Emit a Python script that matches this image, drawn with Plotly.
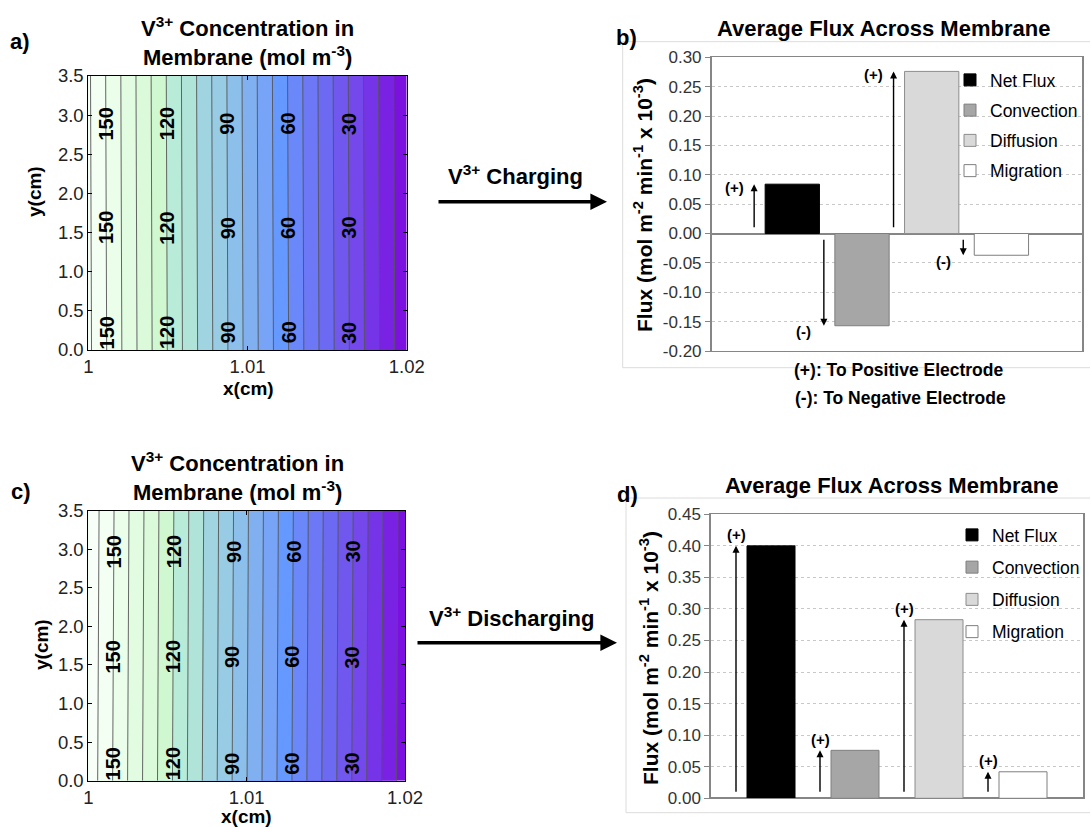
import numpy as np
import plotly.graph_objects as go

# ---------------- data ----------------
# V3+ concentration in the membrane (mol m^-3) on an x (cm) by y (cm) grid
x_cm = [1.000, 1.005, 1.010, 1.015, 1.020]
y_cm = [0.0, 3.5]
conc_charging = [
    [159.1, 119.7, 80.3, 41.0, 1.6],   # y = 0.0 cm
    [158.6, 119.2, 79.8, 40.5, 1.1],   # y = 3.5 cm
]
conc_discharging = [
    [162.2, 122.5, 82.7, 43.0, 3.3],
    [162.9, 123.2, 83.4, 43.7, 4.0],
]
contour_labels = [150, 120, 90, 60, 30]
conc_x_ticks = [1.0, 1.01, 1.02]
conc_x_ticktext = ["1", "1.01", "1.02"]
conc_y_ticks = [0.0, 0.5, 1.0, 1.5, 2.0, 2.5, 3.0, 3.5]

# Average flux across the membrane (mol m^-2 min^-1 x 10^-3)
components = ["Net Flux", "Convection", "Diffusion", "Migration"]
flux_charging = [0.084, -0.157, 0.276, -0.037]
flux_discharging = [0.400, 0.076, 0.283, 0.042]
flux_ticks_charging = [-0.20, -0.15, -0.10, -0.05, 0.00, 0.05, 0.10, 0.15, 0.20, 0.25, 0.30]
flux_ticks_discharging = [0.00, 0.05, 0.10, 0.15, 0.20, 0.25, 0.30, 0.35, 0.40, 0.45]

# ---------------- styling ----------------
W, H = 1090, 827
FONT = "Arial, 'Liberation Sans', sans-serif"


def fx(px):
    return px / W


def fy(py):
    return 1 - py / H


# one colour per filled band, lowest band first (levels every 7.5)
band_colors = [
    "#7c10e0", "#7a22e4", "#7634e8", "#7448ea", "#7058ee", "#6c6af2",
    "#6c78f6", "#6a88fa", "#6699ff", "#78a4f8", "#80b0f0", "#8cc0ea",
    "#98cce4", "#a0d4e0", "#b0e4d8", "#b8ecd8", "#d0f8d0", "#dafada",
    "#e2fce2", "#eafeea", "#f2fff2", "#f8fff8",
]
n_b = len(band_colors) - 1
band_scale = [[k / n_b, c] for k, c in enumerate(band_colors)]

bar_fill = ["#000000", "#a6a6a6", "#d9d9d9", "#ffffff"]
bar_edge = ["#000000", "#7f7f7f", "#8c8c8c", "#7f7f7f"]

fig = go.Figure()


def add_contour(z, xa, ya):
    fig.add_trace(go.Contour(
        x=x_cm, y=y_cm, z=z, xaxis=xa, yaxis=ya,
        autocontour=False,
        contours=dict(start=7.5, end=157.5, size=7.5, coloring="fill", showlabels=False),
        colorscale=band_scale, showscale=False,
        line=dict(color="#555555", width=0.9),
        hoverinfo="skip", showlegend=False,
    ))


add_contour(conc_charging, "x", "y")
add_contour(conc_discharging, "x3", "y3")

# bar geometry inside the single category (category width = 1)
cw_b = 1082 - 711.7
slot_b, bw_b = 69.7 / cw_b, 54.3 / cw_b
cw_d = 1083 - 711
slot_d, bw_d = 84 / cw_d, 48 / cw_d
off_b = [(i - 2) * slot_b + (slot_b - bw_b) / 2 for i in range(4)]
off_d = [(i - 2) * slot_d + (slot_d - bw_d) / 2 for i in range(4)]

for i, name in enumerate(components):
    fig.add_trace(go.Bar(
        x=["flux"], y=[flux_charging[i]], name=name, xaxis="x2", yaxis="y2",
        width=bw_b, offset=off_b[i],
        marker=dict(color=bar_fill[i], line=dict(color=bar_edge[i], width=1)),
        legend="legend", legendgroup=f"b{i}", hoverinfo="skip",
    ))
    fig.add_trace(go.Bar(
        x=["flux"], y=[flux_discharging[i]], name=name, xaxis="x4", yaxis="y4",
        width=bw_d, offset=off_d[i],
        marker=dict(color=bar_fill[i], line=dict(color=bar_edge[i], width=1)),
        legend="legend2", legendgroup=f"d{i}", hoverinfo="skip",
    ))

ann = []


def text(px, py, s, size, bold=True, angle=0, color="black"):
    ann.append(dict(
        x=fx(px), y=fy(py), xref="paper", yref="paper", showarrow=False,
        text=f"<b>{s}</b>" if bold else s, textangle=angle,
        font=dict(family=FONT, size=size, color=color),
        xanchor="center", yanchor="middle",
    ))


# panel letters and titles
text(20, 42, "a)", 22)
text(21, 491, "c)", 22)
text(626, 37, "b)", 22)
text(627, 494, "d)", 22)
text(247, 27, "V<sup>3+</sup> Concentration in", 22)
text(247, 56, "Membrane (mol m<sup>-3</sup>)", 22)
text(237, 462, "V<sup>3+</sup> Concentration in", 22)
text(237, 491, "Membrane (mol m<sup>-3</sup>)", 22)
text(883, 28, "Average Flux Across Membrane", 22)
text(891, 485, "Average Flux Across Membrane", 22)

# axis titles
text(35, 192, "y(cm)", 19, angle=-90)
text(248, 389, "x(cm)", 19)
text(41, 645, "y(cm)", 19, angle=-90)
text(246, 816, "x(cm)", 19)
flux_title = "Flux (mol m<sup>-2</sup> min<sup>-1</sup> x 10<sup>-3</sup>)"
text(643, 205, flux_title, 21, angle=-90)
text(649, 658, flux_title, 21, angle=-90)

# sign convention note
text(898, 370, "(+): To Positive Electrode", 17.5)
text(900, 398, "(-): To Negative Electrode", 17.5)

# process arrows between panels
text(515, 175, "V<sup>3+</sup> Charging", 22)
text(512, 617, "V<sup>3+</sup> Discharging", 22)
for tip_x, tail_x, yy in [(607, 437, 201.7), (617, 416, 642.7)]:
    ann.append(dict(
        x=fx(tip_x), y=fy(yy), xref="paper", yref="paper", text="",
        showarrow=True, ax=tail_x - tip_x, ay=0, axref="pixel", ayref="pixel",
        arrowhead=2, arrowsize=0.95, arrowwidth=3.5, arrowcolor="black",
    ))


# contour level labels, placed where the field equals the level
def contour_label_positions(z, label_rows):
    z = np.asarray(z, dtype=float)
    out = []
    for yv in label_rows:
        t = (yv - y_cm[0]) / (y_cm[-1] - y_cm[0])
        row = z[0] * (1 - t) + z[1] * t
        for lev in contour_labels:
            xv = float(np.interp(lev, row[::-1], np.asarray(x_cm)[::-1]))
            out.append((xv, yv, lev))
    return out


for (z, xr, yr, rows) in [(conc_charging, "x", "y", [0.22, 1.56, 2.89]),
                          (conc_discharging, "x3", "y3", [0.22, 1.6, 2.97])]:
    for xv, yv, lev in contour_label_positions(z, rows):
        ann.append(dict(
            x=xv, y=yv, xref=xr, yref=yr, showarrow=False, text=f"<b>{lev}</b>",
            textangle=-90, font=dict(family=FONT, size=20, color="black"),
            xanchor="center", yanchor="middle",
        ))


# direction arrows next to every bar
def flux_arrows(values, offsets, cw, xr, yr, label_above):
    for v, off in zip(values, offsets):
        ax_x = off - 11 / cw
        start = 0.008 if v > 0 else -0.008
        ann.append(dict(
            x=ax_x, y=v, ax=ax_x, ay=start, xref=xr, yref=yr, axref=xr, ayref=yr,
            text="", showarrow=True, arrowhead=2, arrowsize=1, arrowwidth=1.4,
            arrowcolor="black",
        ))
        sign = "(+)" if v > 0 else "(-)"
        if label_above:
            xs, ys = 0, 11
        else:
            xs, ys = -20, (-3 if v > 0 else -6)
        ann.append(dict(
            x=ax_x, y=v, xref=xr, yref=yr, showarrow=False, text=f"<b>{sign}</b>",
            xshift=xs, yshift=ys, font=dict(family=FONT, size=15, color="black"),
            xanchor="center", yanchor="middle",
        ))


flux_arrows(flux_charging, off_b, cw_b, "x2", "y2", False)
flux_arrows(flux_discharging, off_d, cw_d, "x4", "y4", True)

# faint chart-area borders around the flux charts
shapes = []
for (x0, y0, y1) in [(622.7, 41.7, 367.7), (626, 498, 812.7)]:
    shapes.append(dict(
        type="path", xref="paper", yref="paper",
        path=f"M {fx(1090)},{fy(y0)} L {fx(x0)},{fy(y0)} L {fx(x0)},{fy(y1)} L {fx(1090)},{fy(y1)}",
        line=dict(color="#dcdcdc", width=1), layer="below",
    ))

conc_axis = dict(
    showline=True, linecolor="black", linewidth=1, mirror="ticks",
    ticks="inside", ticklen=4, tickcolor="black", showgrid=False, zeroline=False,
    tickfont=dict(family=FONT, size=18.5, color="#222222"), automargin=False,
)
flux_x_axis = dict(
    type="category", showticklabels=False, showline=True, linecolor="#868686",
    linewidth=1, mirror=True, ticks="", showgrid=False, range=[-0.5, 0.5],
    automargin=False,
)
flux_y_axis = dict(
    showline=True, linecolor="#868686", linewidth=1.5, mirror=True,
    ticks="outside", ticklen=5, tickcolor="#868686",
    showgrid=True, gridcolor="#c8c8c8", griddash="dot", gridwidth=1,
    zeroline=True, zerolinecolor="#868686", zerolinewidth=1.5,
    tickfont=dict(family=FONT, size=17, color="#333333"), automargin=False,
)

fig.update_layout(
    template="none",
    width=W, height=H, margin=dict(l=0, r=0, t=0, b=0, pad=0), autosize=False,
    paper_bgcolor="white", plot_bgcolor="white",
    font=dict(family=FONT, color="black"),
    barmode="overlay", showlegend=True,
    xaxis=dict(conc_axis, domain=[fx(88.3), fx(406.7)], anchor="y", range=[1.0, 1.02],
               tickvals=conc_x_ticks, ticktext=conc_x_ticktext),
    yaxis=dict(conc_axis, domain=[fy(350), fy(76)], anchor="x", range=[0, 3.5],
               tickvals=conc_y_ticks, ticktext=[f"{v:.1f}" for v in conc_y_ticks]),
    xaxis3=dict(conc_axis, domain=[fx(88.3), fx(405)], anchor="y3", range=[1.0, 1.02],
                tickvals=conc_x_ticks, ticktext=conc_x_ticktext),
    yaxis3=dict(conc_axis, domain=[fy(780.7), fy(510.7)], anchor="x3", range=[0, 3.5],
                tickvals=conc_y_ticks, ticktext=[f"{v:.1f}" for v in conc_y_ticks]),
    xaxis2=dict(flux_x_axis, domain=[fx(711.7), fx(1082)], anchor="y2"),
    yaxis2=dict(flux_y_axis, domain=[fy(351), fy(57.3)], anchor="x2", range=[-0.2, 0.3],
                tickvals=flux_ticks_charging, ticktext=[f"{v:.2f}" for v in flux_ticks_charging]),
    xaxis4=dict(flux_x_axis, domain=[fx(711), fx(1083)], anchor="y4"),
    yaxis4=dict(flux_y_axis, domain=[fy(798.3), fy(514.3)], anchor="x4", range=[0, 0.45],
                tickvals=flux_ticks_discharging, ticktext=[f"{v:.2f}" for v in flux_ticks_discharging]),
    legend=dict(x=fx(950), y=fy(62), xanchor="left", yanchor="top",
                bgcolor="rgba(0,0,0,0)", font=dict(family=FONT, size=17.5, color="black"),
                tracegroupgap=4.5, traceorder="grouped"),
    legend2=dict(x=fx(952), y=fy(517), xanchor="left", yanchor="top",
                 bgcolor="rgba(0,0,0,0)", font=dict(family=FONT, size=17.5, color="black"),
                 tracegroupgap=6.5, traceorder="grouped"),
    annotations=ann, shapes=shapes,
)

fig.write_html("out.html")
